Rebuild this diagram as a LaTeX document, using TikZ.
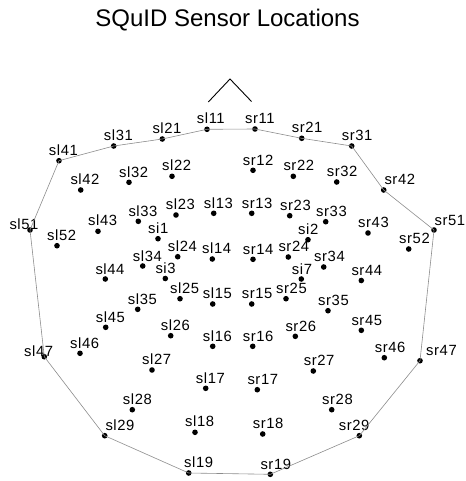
\documentclass[tikz,border=0pt]{standalone}
\usepackage{fontspec}
\setmainfont{Liberation Sans}
\newfontfamily\labfont[LetterSpace=4]{Liberation Sans}
\begin{document}
\begin{tikzpicture}[x=1pt,y=-1pt,
  sdot/.style={circle,fill=black,inner sep=0pt,minimum size=5.6pt},
  slab/.style={anchor=base west,inner sep=0pt,font=\labfont\fontsize{14.8}{17}\selectfont},
  outline/.style={draw=black!45,line width=0.6pt},
  nose/.style={draw=black,line width=0.9pt}]
\useasboundingbox (0,0) rectangle (465,481);
\node[anchor=base,inner sep=0pt,font=\fontsize{24}{28}\selectfont] (title) at (227.5,26.7) {SQuID Sensor Locations};
\newcommand{\sensor}[5]{%
  \node[sdot] (#1) at (#2,#3) {};
  \node[slab] (lab-#1) at (#4,#5) {#1};}
\sensor{sl11}{207}{129.3}{196.7}{123.7}
\sensor{sl21}{162.3}{139}{152.3}{133.3}
\sensor{sl31}{113.7}{146}{103.7}{141}
\sensor{sl41}{59}{160.7}{48.7}{155.3}
\sensor{sl51}{30}{230}{9.3}{229.3}
\sensor{sl42}{80.7}{190}{70.3}{184.3}
\sensor{sl32}{129}{182.3}{119}{177}
\sensor{sl22}{172}{176.3}{162}{170.7}
\sensor{sl13}{213.7}{213.3}{203.7}{208.3}
\sensor{sl23}{176}{215}{165.7}{209.7}
\sensor{sl33}{138.3}{221.3}{128.3}{216}
\sensor{sl43}{98}{231.3}{88}{225.7}
\sensor{sl52}{57}{245.7}{47}{240.3}
\sensor{si1}{158}{238.7}{148}{233.3}
\sensor{sl24}{177.7}{256.7}{167.7}{251.7}
\sensor{sl14}{212.3}{259}{202}{253.3}
\sensor{sl34}{142.7}{266}{132.7}{261}
\sensor{si3}{165.3}{278.5}{155.3}{273.3}
\sensor{sl44}{105.3}{279}{95.3}{274}
\sensor{sr11}{255}{129}{245}{123.7}
\sensor{sr21}{301.7}{138.3}{291.7}{133}
\sensor{sr31}{351.7}{146}{341.7}{141}
\sensor{sr42}{383.7}{190}{384.3}{184.3}
\sensor{sr51}{434}{230}{434.3}{225.7}
\sensor{sr12}{253}{170.3}{242.7}{165.3}
\sensor{sr22}{293.3}{176.3}{283.3}{171}
\sensor{sr32}{336.7}{182}{326.7}{176.7}
\sensor{sr13}{251.7}{213.3}{241.7}{208.3}
\sensor{sr23}{289.7}{215.7}{280}{210.3}
\sensor{sr33}{325.7}{221.7}{316}{216.3}
\sensor{sr43}{368}{233}{358}{227.7}
\sensor{sr52}{408.7}{249}{399}{243.7}
\sensor{si2}{308}{239.7}{298}{234}
\sensor{sr14}{253}{259.3}{242.7}{254}
\sensor{sr24}{288.3}{257}{278.3}{251.7}
\sensor{sr34}{323.7}{267}{314}{261.7}
\sensor{si7}{301.3}{279}{291.7}{274}
\sensor{sr44}{361.3}{280.5}{351.3}{275}
\sensor{sl25}{180}{298.7}{170}{293.3}
\sensor{sl15}{212.7}{304}{202.7}{298.7}
\sensor{sl35}{137.7}{309.3}{127.7}{304}
\sensor{sl45}{105.7}{327.3}{95.7}{322}
\sensor{sl26}{170.7}{335.7}{160.7}{330.3}
\sensor{sl16}{212.7}{346.3}{202.7}{341}
\sensor{sl47}{44.3}{356.7}{24}{356}
\sensor{sl46}{80}{353.3}{70}{348}
\sensor{sl27}{152}{370}{142}{364.7}
\sensor{sl17}{205.7}{388.3}{195.7}{383}
\sensor{sl28}{132.3}{409.7}{122.7}{404.3}
\sensor{sl18}{195}{432.3}{185}{426.7}
\sensor{sl29}{104.7}{435.7}{105.3}{430.3}
\sensor{sl19}{188.7}{473}{184}{467.7}
\sensor{sr15}{251.7}{304}{241.7}{298.7}
\sensor{sr25}{286}{298.7}{276}{293.3}
\sensor{sr35}{328}{310.7}{318}{305.3}
\sensor{sr45}{361.3}{330.3}{351.3}{325}
\sensor{sr26}{295.3}{336.3}{285.3}{331}
\sensor{sr16}{252.7}{346.3}{242.7}{341}
\sensor{sr46}{384.3}{357.7}{374.7}{352}
\sensor{sr47}{420}{360.7}{426}{355.3}
\sensor{sr27}{313.3}{371}{303.7}{365.7}
\sensor{sr17}{257.3}{389.7}{247.3}{384.3}
\sensor{sr28}{331.7}{409.7}{322}{404.3}
\sensor{sr18}{262.7}{434}{252.7}{428.7}
\sensor{sr29}{359.3}{435.7}{338.7}{430.3}
\sensor{sr19}{270.3}{474.3}{260.3}{469}
\draw[outline] (sl11.center) -- (sr11.center) -- (sr21.center) -- (sr31.center) -- (sr42.center) -- (sr51.center) -- (sr47.center) -- (sr29.center) -- (sr19.center) -- (sl19.center) -- (sl29.center) -- (sl47.center) -- (sl51.center) -- (sl41.center) -- (sl31.center) -- (sl21.center) -- cycle;
\coordinate (noseL) at (208.3,102);
\coordinate (noseT) at (230,79);
\coordinate (noseR) at (251.5,101.5);
\draw[nose] (noseL) -- (noseT) -- (noseR);
\end{tikzpicture}
\end{document}
